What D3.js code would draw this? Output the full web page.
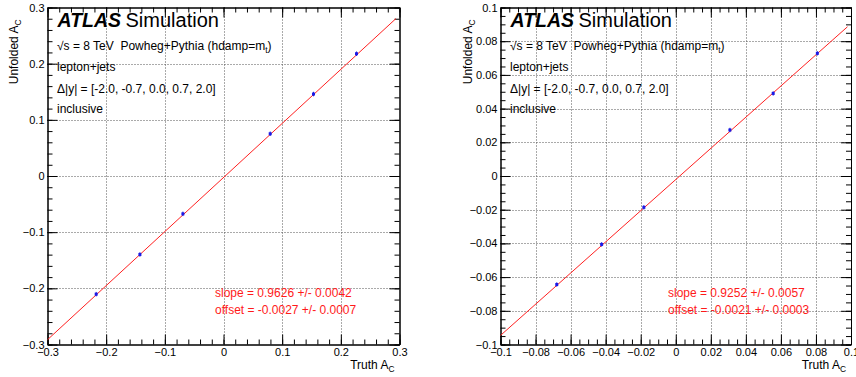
<!DOCTYPE html>
<html>
<head>
<meta charset="utf-8">
<script src="https://cdn.jsdelivr.net/npm/d3@7"></script>
<style>
  body { margin: 0; background: #fff; }
  svg { display: block; }
  text { font-family: "Liberation Sans", Arial, Helvetica, sans-serif; white-space: pre; }
</style>
</head>
<body>
<svg id="chart" width="856" height="377"></svg>
<script>
// ---- inclusive lepton+jets linearity test ----
// left: A_C range ±0.3
const truthLeft    = [-0.217, -0.1425, -0.0692, 0.0796, 0.1534, 0.2267];
const unfoldedLeft = [-0.2104, -0.1397, -0.0674, 0.0752, 0.1459, 0.2177];
const errorLeft    = [0.004, 0.004, 0.004, 0.004, 0.004, 0.004];
const slopeLeft = 0.9626, slopeErrLeft = 0.0042;
const offsetLeft = -0.0027, offsetErrLeft = 0.0007;
const majorTicksLeft = [-0.3, -0.2, -0.1, 0, 0.1, 0.2, 0.3];
const tickLabelsLeft = ["\u22120.3", "\u22120.2", "\u22120.1", "0", "0.1", "0.2", "0.3"];

// right: A_C range ±0.1
const truthRight    = [-0.0679, -0.0423, -0.0182, 0.0309, 0.0556, 0.0808];
const unfoldedRight = [-0.0644, -0.0406, -0.0186, 0.0273, 0.0490, 0.0728];
const errorRight    = [0.0013, 0.0013, 0.0013, 0.0013, 0.0013, 0.0013];
const slopeRight = 0.9252, slopeErrRight = 0.0057;
const offsetRight = -0.0021, offsetErrRight = 0.0003;
const majorTicksRight = [-0.1, -0.08, -0.06, -0.04, -0.02, 0, 0.02, 0.04, 0.06, 0.08, 0.1];
const tickLabelsRight = ["\u22120.1", "\u22120.08", "\u22120.06", "\u22120.04", "\u22120.02", "0",
                         "0.02", "0.04", "0.06", "0.08", "0.1"];

const infoLines = [
  [["\u221As = 8 TeV  Powheg+Pythia (hdamp=m"], ["t", "sub"], [")"]],
  [["lepton+jets"]],
  [["\u0394|y| = [-2.0, -0.7, 0.0, 0.7, 2.0]"]],
  [["inclusive"]]
];

const fmt4 = v => (v < 0 ? "-" : "") + Math.abs(v).toFixed(4);

const panels = [
  { truth: truthLeft, unfolded: unfoldedLeft, err: errorLeft,
    slope: slopeLeft, slopeErr: slopeErrLeft, offset: offsetLeft, offsetErr: offsetErrLeft,
    domain: [-0.3, 0.3], fitTo: 0.294,
    majors: majorTicksLeft, labels: tickLabelsLeft, minorStep: 0.02,
    left: 47.5, right: 399.5, top: 7.5, bottom: 344.5,
    yTitleX: 17.5, fitTextX: 215 },
  { truth: truthRight, unfolded: unfoldedRight, err: errorRight,
    slope: slopeRight, slopeErr: slopeErrRight, offset: offsetRight, offsetErr: offsetErrRight,
    domain: [-0.1, 0.1], fitTo: 0.098,
    majors: majorTicksRight, labels: tickLabelsRight, minorStep: 0.005,
    left: 500.5, right: 851, top: 7.5, bottom: 344.5,
    yTitleX: 472, fitTextX: 668 }
];

const svg = d3.select("#chart");

function richText(g, x, y, parts, size, color) {
  const t = g.append("text").attr("x", x).attr("y", y)
    .attr("font-size", size).attr("fill", color || "#000");
  let lowered = false;
  parts.forEach(([s, kind]) => {
    if (kind === "sub") {
      t.append("tspan").attr("dy", size * 0.28).attr("font-size", size * 0.7).text(s);
      lowered = true;
    } else if (lowered) {
      t.append("tspan").attr("dy", -size * 0.28).text(s);
      lowered = false;
    } else {
      t.append("tspan").text(s);
    }
  });
  return t;
}

function minorValues(domain, step) {
  const n = Math.round((domain[1] - domain[0]) / step);
  return d3.range(n + 1).map(i => +(domain[0] + i * step).toFixed(6));
}

panels.forEach(p => {
  const g = svg.append("g");
  const x = d3.scaleLinear().domain(p.domain).range([p.left, p.right]);
  const y = d3.scaleLinear().domain(p.domain).range([p.bottom, p.top]);
  const inner = p.majors.slice(1, -1);

  // dotted grid at interior major ticks
  const grid = g.append("g").attr("stroke", "#555").attr("stroke-width", 1)
    .attr("stroke-dasharray", "1,2");
  grid.selectAll(".gx").data(inner).join("line")
    .attr("x1", d => Math.round(x(d)) + 0.5).attr("x2", d => Math.round(x(d)) + 0.5)
    .attr("y1", p.top).attr("y2", p.bottom);
  grid.selectAll(".gy").data(inner).join("line")
    .attr("y1", d => Math.round(y(d)) + 0.5).attr("y2", d => Math.round(y(d)) + 0.5)
    .attr("x1", p.left).attr("x2", p.right);

  // axes with ticks pointing into the frame
  const minors = minorValues(p.domain, p.minorStep);
  const style = sel => {
    sel.attr("font-family", null).attr("font-size", null);
    sel.selectAll("text").attr("font-size", 11).attr("fill", "#000");
    sel.selectAll("line").attr("stroke", "#000");
    sel.select(".domain").attr("stroke", "#000");
  };
  const labelAt = d => p.labels[p.majors.indexOf(d)];
  g.append("g").attr("transform", `translate(0,${p.bottom})`)
    .call(d3.axisBottom(x).tickValues(p.majors).tickFormat(labelAt)
      .tickSizeInner(-10).tickSizeOuter(0).tickPadding(4)).call(style);
  g.append("g").attr("transform", `translate(0,${p.bottom})`)
    .call(d3.axisBottom(x).tickValues(minors).tickFormat("")
      .tickSizeInner(-5).tickSizeOuter(0)).call(style);
  g.append("g").attr("transform", `translate(0,${p.top})`)
    .call(d3.axisTop(x).tickValues(p.majors).tickFormat("")
      .tickSizeInner(-10).tickSizeOuter(0)).call(style);
  g.append("g").attr("transform", `translate(0,${p.top})`)
    .call(d3.axisTop(x).tickValues(minors).tickFormat("")
      .tickSizeInner(-5).tickSizeOuter(0)).call(style);
  g.append("g").attr("transform", `translate(${p.left},0)`)
    .call(d3.axisLeft(y).tickValues(p.majors).tickFormat(labelAt)
      .tickSizeInner(-10).tickSizeOuter(0).tickPadding(3)).call(style);
  g.append("g").attr("transform", `translate(${p.left},0)`)
    .call(d3.axisLeft(y).tickValues(minors).tickFormat("")
      .tickSizeInner(-5).tickSizeOuter(0)).call(style);
  g.append("g").attr("transform", `translate(${p.right},0)`)
    .call(d3.axisRight(y).tickValues(p.majors).tickFormat("")
      .tickSizeInner(-10).tickSizeOuter(0)).call(style);
  g.append("g").attr("transform", `translate(${p.right},0)`)
    .call(d3.axisRight(y).tickValues(minors).tickFormat("")
      .tickSizeInner(-5).tickSizeOuter(0)).call(style);

  // linear fit
  const fitY = v => p.slope * v + p.offset;
  g.append("line")
    .attr("x1", x(p.domain[0])).attr("y1", y(fitY(p.domain[0])))
    .attr("x2", x(p.fitTo)).attr("y2", y(fitY(p.fitTo)))
    .attr("stroke", "#ff2020").attr("stroke-width", 1);

  // unfolded vs truth points with error bars
  const pts = p.truth.map((t, i) => ({ t, u: p.unfolded[i], e: p.err[i] }));
  g.selectAll(".err").data(pts).join("line")
    .attr("x1", d => x(d.t)).attr("x2", d => x(d.t))
    .attr("y1", d => y(d.u - d.e)).attr("y2", d => y(d.u + d.e))
    .attr("stroke", "#2222dd").attr("stroke-width", 1);
  g.selectAll(".pt").data(pts).join("rect")
    .attr("x", d => x(d.t) - 1.5).attr("y", d => y(d.u) - 1.5)
    .attr("width", 3).attr("height", 3).attr("fill", "#1a1ae6");

  // labels
  const tx = p.left + 10;
  g.append("text").attr("x", tx).attr("y", 26.5).attr("font-size", 19.5)
    .attr("font-weight", "bold").attr("font-style", "italic").text("ATLAS");
  g.append("text").attr("x", p.left + 78).attr("y", 26.5).attr("font-size", 20).text("Simulation");
  const infoY = [49.5, 71, 92.5, 112.5];
  infoLines.forEach((parts, i) => richText(g, tx - 0.5, infoY[i], parts, 12));

  richText(g, p.fitTextX, 296.5,
    [[`slope = ${fmt4(p.slope)} +/- ${fmt4(p.slopeErr)}`]], 12, "#ff1a1a");
  richText(g, p.fitTextX, 314,
    [[`offset = ${fmt4(p.offset)} +/- ${fmt4(p.offsetErr)}`]], 12, "#ff1a1a");

  // axis titles
  richText(g, p.right - 5, 369, [["Truth A"], ["C", "sub"]], 12).attr("text-anchor", "end");
  richText(g, 0, 0, [["Unfolded A"], ["C", "sub"]], 12)
    .attr("text-anchor", "end")
    .attr("transform", `translate(${p.yTitleX},${p.top + 12}) rotate(-90)`);
});
</script>
</body>
</html>
